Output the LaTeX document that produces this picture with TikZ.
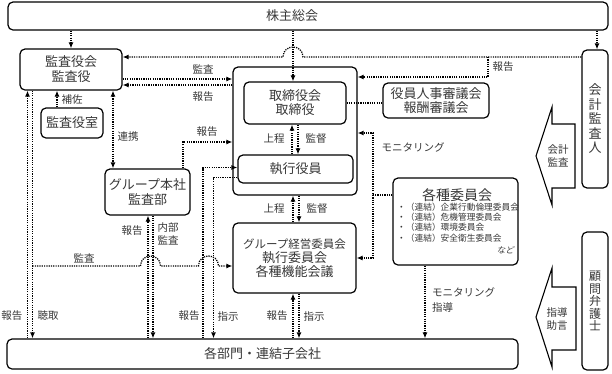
\documentclass[tikz,border=0pt]{standalone}
\usepackage{fontspec}
\setmainfont{Noto Sans CJK JP}
\newfontfamily\jpslant[FakeSlant=0.2]{Noto Sans CJK JP}
\usetikzlibrary{arrows.meta}
\definecolor{txt}{gray}{0.22}
\begin{document}
\begin{tikzpicture}[x=1pt,y=-1pt,
  box/.style={draw=black,line width=1.2pt,rounded corners=5pt,inner sep=0pt,align=center,text=txt,font=\fontsize{13}{15}\selectfont},
  lbl/.style={text=txt,font=\fontsize{10.5}{12.5}\selectfont,inner sep=0pt,align=center},
  dl/.style={line width=1.25pt,dash pattern=on 1.2pt off 1.1pt},
  tip/.style={-{Latex[length=6pt,width=5pt]}},
  tips/.style={{Latex[length=6pt,width=5pt]}-{Latex[length=6pt,width=5pt]}},
  blockarrow/.style={draw=black,line width=1.1pt,fill=white,line join=miter}
]
\fill[white] (0,0) rectangle (612,373);
\useasboundingbox (0,0) rectangle (612,373);

% ---------- boxes ----------
\node[box,minimum width=600pt,minimum height=28pt] (sh) at (308,16) {};
\node[lbl,font=\fontsize{13}{15}\selectfont] (shT) at (292,16) {株主総会};
\node[box,minimum width=102pt,minimum height=41pt] (kansa) at (71,69.5) {監査役会\\監査役};
\node[box,minimum width=62pt,minimum height=30pt] (ksitsu) at (72,123) {監査役室};
\node[box,minimum width=85pt,minimum height=46pt] (ghq) at (147.5,192) {グループ本社\\監査部};
\node[box,minimum width=124pt,minimum height=128pt] (board) at (295,131) {};
\node[box,minimum width=102pt,minimum height=42pt,font=\fontsize{13}{14}\selectfont] (tori) at (295,103) {取締役会\\取締役};
\node[box,minimum width=115pt,minimum height=28pt] (shikko) at (295.5,169) {執行役員};
\node[box,minimum width=106pt,minimum height=35pt,font=\fontsize{13}{14}\selectfont] (yakuin) at (436,100.5) {役員人事審議会\\報酬審議会};
\node[box,minimum width=125pt,minimum height=87pt] (iinkai) at (455.5,221.5) {};
\node[lbl,font=\fontsize{14}{16}\selectfont] (iT) at (457,195) {各種委員会};
\node[lbl,anchor=west,align=left,font=\fontsize{8.7}{10.3}\selectfont] (iB) at (397,222.5) {・（連結）企業行動倫理委員会\\・（連結）危機管理委員会\\・（連結）環境委員会\\・（連結）安全衛生委員会};
\node[lbl,anchor=east,font=\jpslant\fontsize{8.5}{10}\selectfont] (iN) at (514,250) {など};
\node[box,minimum width=123pt,minimum height=70pt,font=\fontsize{13}{14}\selectfont] (gke) at (294.5,258) {{\fontsize{11.5}{14}\selectfont グループ経営委員会}\\執行委員会\\各種機能会議};
\node[box,minimum width=511pt,minimum height=30pt] (bumon) at (262.5,354) {各部門・連結子会社};
\node[box,minimum width=26pt,minimum height=138pt,font=\fontsize{13}{14.5}\selectfont] (kaikei) at (595,119) {会\\計\\監\\査\\人};
\node[box,minimum width=26pt,minimum height=138pt,font=\fontsize{12}{12.5}\selectfont] (komon) at (595,301) {顧\\問\\弁\\護\\士};

% ---------- block arrows ----------
\draw[blockarrow] (536,156) -- (552,107) -- (552,124) -- (575,124) -- (575,188) -- (552,188) -- (552,205) -- cycle;
\node[lbl] (kaikeiA) at (558,156) {会計\\監査};
\draw[blockarrow] (536,317) -- (552,268) -- (552,287) -- (576,287) -- (576,350) -- (552,350) -- (552,367) -- cycle;
\node[lbl] (komonA) at (557,319) {指導\\助言};

% ---------- helper coordinates ----------
\coordinate (x27) at (27.5,0);  \coordinate (x33) at (32.5,0);
\coordinate (x57) at (57,0);    \coordinate (x113) at (113,0);
\coordinate (x148) at (148,0);  \coordinate (x153) at (153,0);
\coordinate (x183) at (183,0);  \coordinate (x203) at (203,0);
\coordinate (x214) at (213.5,0);\coordinate (x292) at (292,0);
\coordinate (x298) at (298,0);  \coordinate (x293) at (293,0);
\coordinate (x299) at (299,0);  \coordinate (x425) at (425,0);
\coordinate (x597) at (597,0);  \coordinate (x488) at (488,0);
\coordinate (x373) at (373,0);
\coordinate (y57) at (0,57);    \coordinate (y77) at (0,77);
\coordinate (y79) at (0,79);    \coordinate (y85) at (0,85);
\coordinate (y103) at (0,103);  \coordinate (y133) at (0,133);
\coordinate (y142) at (0,142);  \coordinate (y168) at (0,167.5);
\coordinate (y178) at (0,177.5);\coordinate (y195) at (0,195);
\coordinate (y258) at (0,258);  \coordinate (y266) at (0,266);

% ---------- connectors ----------
% shareholders
\draw[dl,tip] (kansa |- sh.south) -- (kansa.north);
\draw[dl,tip] (x293 |- sh.south) -- (x293 |- tori.north);
\draw[dl,tip] (x597 |- sh.south) -- (x597 |- kaikei.north);
% accounting auditor report
\draw[dl,tip] (kaikei.west |- y57) -- (303,57) .. controls (303,43.7) and (283,43.7) .. (283,57) -- (kansa.east |- y57);
\coordinate (br) at (x488 |- y57);
\draw[dl,tip] (br) -- (x488 |- y77) -- (board.east |- y77);
% audit / report between kansa and board
\draw[dl,tip] (kansa.east |- y79) -- (board.west |- y79);
\draw[dl,tip] (board.west |- y85) -- (kansa.east |- y85);
% support / cooperation
\draw[dl,tip] (x57 |- ksitsu.north) -- (x57 |- kansa.south);
\draw[dl,tips] (x113 |- kansa.south) -- (x113 |- ghq.north);
% ghq report to board
\draw[dl,tip] (x183 |- ghq.north) -- (x183 |- y142) -- (board.west |- y142);
% board internal
\draw[dl,tip] (x292 |- shikko.north) -- (x292 |- tori.south);
\draw[dl,tip] (x298 |- tori.south) -- (x298 |- shikko.north);
\draw[dl] (tori.east |- y103) -- (yakuin.west |- y103);
% monitoring from committees
\coordinate (mj) at (x373 |- y195);
\draw[dl,tip] (iinkai.west |- y195) -- (mj) -- (x373 |- y133) -- (board.east |- y133);
\draw[dl,tip] (mj) -- (x373 |- y258) -- (gke.east |- y258);
\draw[dl,tip] (x425 |- iinkai.south) -- (x425 |- bumon.north);
% board <-> gke
\draw[dl,tip] (x293 |- gke.north) -- (x293 |- board.south);
\draw[dl,tip] (x299 |- board.south) -- (x299 |- gke.north);
% gke <-> bumon
\draw[dl,tip] (x293 |- bumon.north) -- (x293 |- gke.south);
\draw[dl,tip] (x299 |- gke.south) -- (x299 |- bumon.north);
% shikko <-> bumon
\draw[dl,tip] (x203 |- bumon.north) -- (x203 |- y168) -- (shikko.west |- y168);
\draw[dl,tip] (shikko.west |- y178) -- (x214 |- y178) -- (x214 |- bumon.north);
% ghq <-> bumon
\draw[dl,tip] (x148 |- bumon.north) -- (x148 |- ghq.south);
\draw[dl,tip] (x153 |- ghq.south) -- (x153 |- bumon.north);
% kansa <-> bumon
\draw[dl,tip] (x27 |- bumon.north) -- (x27 |- kansa.south);
\draw[dl,tip] (x33 |- kansa.south) -- (x33 |- bumon.north);
% audit line to gke with hops
\draw[dl,tip] (x33 |- y266) -- (140.5,266) .. controls (140.5,252.7) and (160.5,252.7) .. (160.5,266)
   -- (198.5,266) .. controls (198.5,252.7) and (218.5,252.7) .. (218.5,266) -- (gke.west |- y266);

% ---------- labels ----------
\node[lbl] (l1) at (203,69) {監査};
\node[lbl] (l2) at (203,97) {報告};
\node[lbl] (l3) at (72,100) {補佐};
\node[lbl] (l4) at (128,137) {連携};
\node[lbl] (l5) at (207,132) {報告};
\node[lbl] (l6) at (274,139) {上程};
\node[lbl] (l7) at (316,139) {監督};
\node[lbl] (l8) at (413,147) {モニタリング};
\node[lbl] (l9) at (503,67) {報告};
\node[lbl] (l10) at (274,209) {上程};
\node[lbl] (l11) at (317,209) {監督};
\node[lbl] (l12) at (132,231) {報告};
\node[lbl] (l13) at (168,234) {内部\\監査};
\node[lbl] (l14) at (84,258) {監査};
\node[lbl] (l15) at (12,316) {報告};
\node[lbl] (l16) at (48,316) {聴取};
\node[lbl] (l17) at (189,316) {報告};
\node[lbl] (l18) at (228,316) {指示};
\node[lbl] (l19) at (277,316) {報告};
\node[lbl] (l20) at (314,316) {指示};
\node[lbl,anchor=west,align=left,font=\fontsize{10.5}{15}\selectfont] (l21) at (432,300.5) {モニタリング\\指導};
\end{tikzpicture}
\end{document}
